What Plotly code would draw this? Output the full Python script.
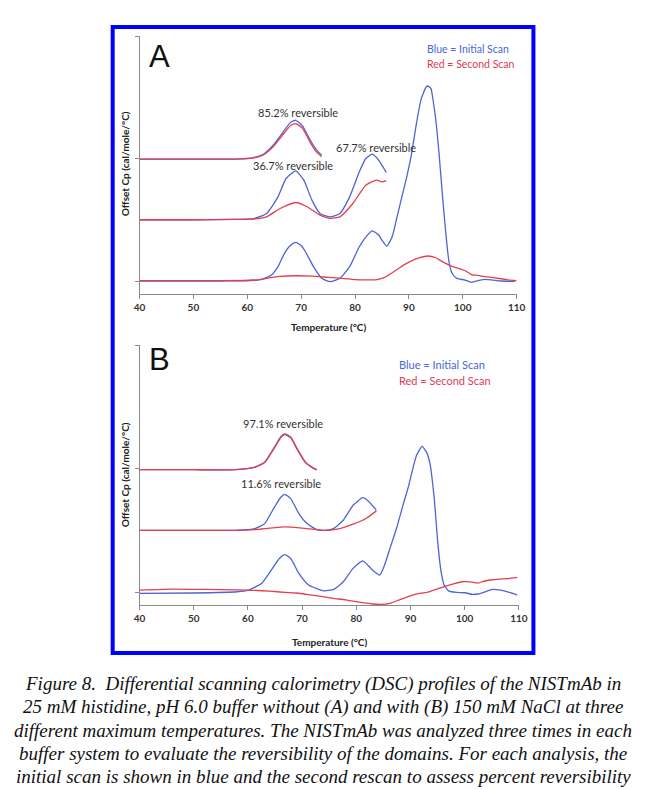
import plotly.graph_objects as go

W, H = 649, 789

# ---------------- Panel A data (Temperature °C, offset Cp arbitrary units) -------------
a_bot_blue_T = [40, 45, 50, 55, 58, 60.2, 62.7, 64.5, 65.7, 66.9, 68.0, 69.0, 70.0, 70.8, 72.3, 73.8, 75.4,
                77.2, 79.0, 80.8, 82.3, 83.2, 84.4, 85.0, 85.9, 86.9, 87.8, 88.7, 89.6, 90.5, 91.4, 92.3,
                93.2, 93.5, 94.1, 94.4, 95.0, 95.6, 96.2, 96.8, 97.4, 98.0, 98.9, 100.4, 101.6, 102.5,
                104.0, 107.1, 109.7]
a_bot_blue_v = [0.0, 0.0, 0.0, 0.0, 0.002, 0.004, 0.014, 0.049, 0.117, 0.226, 0.29, 0.315, 0.29, 0.239,
                0.117, 0.022, -0.005, 0.022, 0.117, 0.28, 0.375, 0.41, 0.375, 0.334, 0.285, 0.361, 0.524,
                0.687, 0.85, 1.04, 1.285, 1.489, 1.584, 1.592, 1.57, 1.502, 1.312, 1.04, 0.715, 0.416,
                0.171, 0.063, 0.022, 0.008, -0.011, 0.0, 0.013, 0.0, -0.003]

a_bot_red_T = [40, 50, 60, 62, 64, 66, 69, 72, 75, 78, 80, 83, 84.1, 85.5, 87.2, 89, 90.2, 92, 93.5, 95,
               96.2, 97.9, 100.1, 101, 101.7, 102.5, 103.5, 105.3, 108.3, 110]
a_bot_red_v = [0.003, 0.003, 0.004, 0.01, 0.025, 0.038, 0.043, 0.04, 0.03, 0.02, 0.012, 0.01, 0.012,
               0.03, 0.076, 0.13, 0.158, 0.19, 0.204, 0.19, 0.158, 0.122, 0.09, 0.07, 0.05, 0.048,
               0.04, 0.03, 0.01, 0.003]

a_mid_blue_T = [40, 50, 57.5, 61.2, 63.6, 65.7, 67.2, 69.0, 70.5, 72.0, 73.5, 75.4, 77.2, 79.0, 80.8,
                82.0, 83.2, 84.4, 85.8]
a_mid_blue_v = [0.5, 0.5, 0.503, 0.51, 0.552, 0.687, 0.837, 0.899, 0.823, 0.66, 0.552, 0.524, 0.552,
                0.687, 0.891, 1.0, 1.035, 0.986, 0.886]

a_mid_red_T = [40, 50, 57.5, 61.5, 63.6, 66.1, 69.0, 71.1, 73.5, 75.4, 77.2, 79.6, 82.0, 84.0, 85.0, 85.8]
a_mid_red_v = [0.5, 0.5, 0.503, 0.508, 0.524, 0.592, 0.641, 0.606, 0.538, 0.511, 0.524, 0.633, 0.782,
               0.823, 0.81, 0.817]

a_top_blue_T = [40, 50, 57.5, 61.2, 63.0, 64.8, 66.9, 68.1, 69.0, 70.2, 71.7, 72.9, 73.8]
a_top_blue_v = [0.995, 0.995, 0.995, 1.008, 1.035, 1.108, 1.231, 1.298, 1.312, 1.271, 1.149, 1.068, 1.027]

a_top_red_T = [40, 50, 57.5, 61.2, 63.0, 64.8, 66.9, 68.1, 69.0, 70.2, 71.7, 72.9, 73.8]
a_top_red_v = [0.995, 0.995, 0.995, 1.006, 1.03, 1.095, 1.21, 1.272, 1.285, 1.25, 1.13, 1.05, 1.015]

# ---------------- Panel B data -------------
b_bot_blue_T = [40, 50, 58, 60.1, 62.5, 64.3, 65.8, 66.8, 67.9, 69.4, 71.2, 74.0, 75.8, 77.6, 79.4, 81.2,
                83.0, 84.3, 85.1, 86.3, 87.5, 88.7, 89.6, 90.5, 91.1, 92.15, 93.0, 93.6, 94.4, 95.0, 95.6,
                96.2, 97.1, 98.5, 100.1, 101.4, 102.5, 103.5, 105.2, 107.9, 109.7]
b_bot_blue_v = [-0.008, -0.005, 0.005, 0.019, 0.072, 0.18, 0.274, 0.306, 0.274, 0.153, 0.059, 0.013, 0.024,
                0.086, 0.194, 0.255, 0.18, 0.14, 0.207, 0.368, 0.529, 0.718, 0.852, 1.013, 1.107, 1.18,
                1.13, 1.04, 0.75, 0.42, 0.18, 0.06, 0.01, 0.0, -0.003, -0.016, -0.013, 0.0, 0.024, 0.005,
                -0.022]

b_bot_red_T = [40, 46, 52, 57.8, 60, 64, 66.8, 69, 71.5, 73.5, 75.7, 78, 80, 83, 84.4, 86.2, 88, 90.5,
               93.4, 96.5, 99.5, 101, 102.5, 103.5, 104.9, 106, 108, 109.7]
b_bot_red_v = [0.019, 0.027, 0.024, 0.02, 0.019, 0.01, 0.0, -0.005, -0.02, -0.033, -0.048, -0.06, -0.075,
               -0.094, -0.097, -0.089, -0.06, -0.02, 0.005, 0.05, 0.086, 0.085, 0.075, 0.09, 0.1, 0.105,
               0.112, 0.121]

b_mid_blue_T = [40, 50, 57.7, 61.3, 63.1, 64.9, 66.1, 66.8, 67.9, 69.4, 70.9, 72.7, 74.3, 75.8, 77.6,
                79.4, 81.2, 82.4, 83.7]
b_mid_blue_v = [0.502, 0.502, 0.502, 0.516, 0.556, 0.69, 0.771, 0.793, 0.758, 0.637, 0.556, 0.508, 0.502,
                0.516, 0.583, 0.704, 0.766, 0.731, 0.664]

b_mid_red_T = [40, 50, 57.7, 61.3, 66.8, 70.9, 74.3, 77.0, 79.4, 81.8, 83.7]
b_mid_red_v = [0.502, 0.502, 0.502, 0.508, 0.529, 0.516, 0.502, 0.516, 0.551, 0.597, 0.659]

b_top_blue_T = [40, 50, 57.7, 61.3, 63.1, 64.9, 66.1, 66.8, 67.9, 69.1, 70.6, 72.1, 72.7]
b_top_blue_v = [0.992, 0.992, 0.992, 1.013, 1.053, 1.174, 1.26, 1.282, 1.255, 1.16, 1.053, 1.005, 0.992]

b_top_red_T = [40, 50, 57.7, 61.3, 63.1, 64.9, 66.1, 66.8, 67.9, 69.1, 70.6, 72.1, 72.7]
b_top_red_v = [0.992, 0.992, 0.992, 1.012, 1.05, 1.168, 1.254, 1.276, 1.25, 1.156, 1.05, 1.003, 0.99]

x_ticks = [40, 50, 60, 70, 80, 90, 100, 110]
y_ticks = [0, 1, 2]

a_labels = ["85.2% reversible", "67.7% reversible", "36.7% reversible"]
b_labels = ["97.1% reversible", "11.6% reversible"]

caption_lines = [
    "Figure 8.  Differential scanning calorimetry (DSC) profiles of the NISTmAb in",
    "25 mM histidine, pH 6.0 buffer without (A) and with (B) 150 mM NaCl at three",
    "different maximum temperatures. The NISTmAb was analyzed three times in each",
    "buffer system to evaluate the reversibility of the domains. For each analysis, the",
    "initial scan is shown in blue and the second rescan to assess percent reversibility",
]

BLUE = "#4e64d6"
RED = "#e2404f"

def px(x):
    return x / W

def py(y):
    return 1 - y / H

fig = go.Figure()

def add_line(T, v, color, xa, ya):
    fig.add_trace(go.Scatter(x=T, y=v, mode="lines", line=dict(color=color, width=1.3, shape="spline",
                                                               smoothing=0.5),
                             xaxis=xa, yaxis=ya, showlegend=False, hoverinfo="skip"))

add_line(a_bot_blue_T, a_bot_blue_v, BLUE, "x", "y")
add_line(a_bot_red_T, a_bot_red_v, RED, "x", "y")
add_line(a_mid_blue_T, a_mid_blue_v, BLUE, "x", "y")
add_line(a_mid_red_T, a_mid_red_v, RED, "x", "y")
add_line(a_top_blue_T, a_top_blue_v, BLUE, "x", "y")
add_line(a_top_red_T, a_top_red_v, RED, "x", "y")

add_line(b_bot_blue_T, b_bot_blue_v, BLUE, "x2", "y2")
add_line(b_bot_red_T, b_bot_red_v, RED, "x2", "y2")
add_line(b_mid_blue_T, b_mid_blue_v, BLUE, "x2", "y2")
add_line(b_mid_red_T, b_mid_red_v, RED, "x2", "y2")
add_line(b_top_blue_T, b_top_blue_v, BLUE, "x2", "y2")
add_line(b_top_red_T, b_top_red_v, RED, "x2", "y2")

AX_COL = "#8a8a8a"
tick_font = dict(family="Lato", size=10, color="#333333", weight="bold")

def xaxis_cfg(domain, anchor):
    return dict(domain=domain, anchor=anchor, range=[40, 110], tickvals=x_ticks,
                ticks="outside", ticklen=4, tickcolor=AX_COL, tickwidth=1,
                showline=True, linecolor=AX_COL, linewidth=1, showgrid=False, zeroline=False,
                tickfont=tick_font)

def yaxis_cfg(domain, anchor, rng):
    return dict(domain=domain, anchor=anchor, range=rng, tickvals=y_ticks, showticklabels=False,
                ticks="outside", ticklen=4, tickcolor=AX_COL, tickwidth=1,
                showline=True, linecolor=AX_COL, linewidth=1, showgrid=False, zeroline=False)

fig.update_layout(
    width=W, height=H, autosize=False,
    margin=dict(l=0, r=0, t=0, b=0),
    paper_bgcolor="white", plot_bgcolor="white",
    xaxis=xaxis_cfg([px(136.7), px(522.7)], "y"),
    yaxis=yaxis_cfg([py(294), py(36)], "x", [-0.106, 2.0]),
    xaxis2=xaxis_cfg([px(136.7), px(525)], "y2"),
    yaxis2=yaxis_cfg([py(605), py(345)], "x2", [-0.102, 2.0]),
)

# blue frame
fig.add_shape(type="rect", xref="paper", yref="paper", x0=px(109.2), x1=px(539.9), y0=py(653), y1=py(27),
              line=dict(color="#0000ff", width=4))

ann = []

def text(x, y, t, size, color="#222222", family="Lato", xanchor="center", weight="normal", angle=0):
    ann.append(dict(xref="paper", yref="paper", x=px(x), y=py(y), text=t, showarrow=False,
                    xanchor=xanchor, yanchor="middle", textangle=angle,
                    font=dict(family=family, size=size, color=color, weight=weight)))

# panel letters
text(157, 56, "A", 31, color="#111111", family="Liberation Sans")
text(157.5, 359, "B", 31, color="#111111", family="Liberation Sans")

# legend-like notes
text(429, 49, "Blue = Initial Scan", 10.5, color="#4a66d8", xanchor="left")
text(429, 64, "Red = Second Scan", 10.5, color="#e03a52", xanchor="left")
text(400, 364, "Blue = Initial Scan", 11, color="#4a66d8", xanchor="left")
text(400, 380, "Red = Second Scan", 11, color="#e03a52", xanchor="left")

# reversibility labels
text(298.7, 112, a_labels[0], 11, color="#333333")
text(378.8, 147, a_labels[1], 11, color="#333333")
text(294, 166, a_labels[2], 11, color="#333333")
text(283.5, 423, b_labels[0], 11, color="#333333")
text(281.7, 484, b_labels[1], 11, color="#333333")

# axis titles
text(330, 327, "Temperature (°C)", 10, color="#222222", weight="bold")
text(331, 642, "Temperature (°C)", 10, color="#222222", weight="bold")
text(122, 164, "Offset Cp (cal/mole/°C)", 10, color="#222222", weight="bold", angle=-90)
text(122, 475, "Offset Cp (cal/mole/°C)", 10, color="#222222", weight="bold", angle=-90)

# caption
cap_y = [684, 707, 730, 753, 776]
for line, yy in zip(caption_lines, cap_y):
    text(324.5, yy, "<i>" + line + "</i>", 19, color="#111111", family="Liberation Serif")

fig.update_layout(annotations=ann)
fig.write_html("out.html")
